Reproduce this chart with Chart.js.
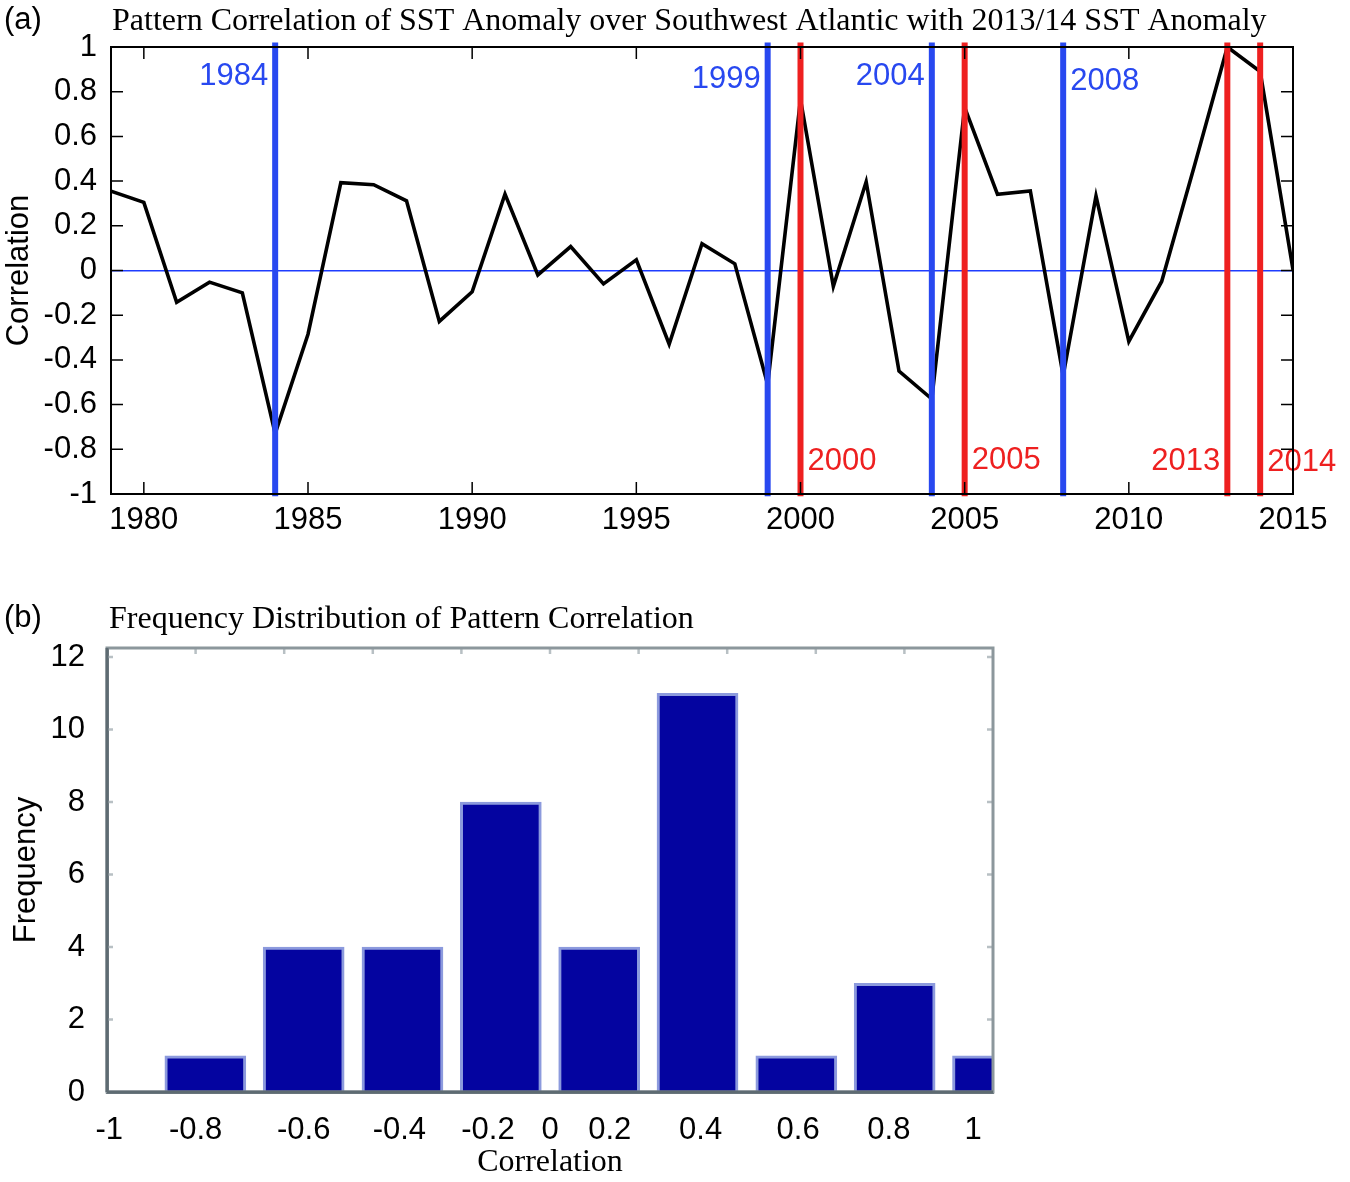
<!DOCTYPE html>
<html><head><meta charset="utf-8">
<script src="https://cdn.jsdelivr.net/npm/chart.js@4.4.1/dist/chart.umd.min.js"></script>
<style>
html,body{margin:0;padding:0;background:#fff;width:1350px;height:1182px;overflow:hidden;}
#wa{position:absolute;left:0;top:0;width:1350px;height:545px;}
#wb{position:absolute;left:0;top:590px;width:1350px;height:592px;}
</style></head><body>
<div id="wa"><canvas id="ca"></canvas></div>
<div id="wb"><canvas id="cb"></canvas></div>
<script>
// ---------- DATA ----------
const years = [1979,1980,1981,1982,1983,1984,1985,1986,1987,1988,1989,1990,1991,1992,1993,1994,1995,1996,1997,1998,1999,2000,2001,2002,2003,2004,2005,2006,2007,2008,2009,2010,2011,2012,2013,2014,2015];
const correlation = [0.355,0.305,-0.142,-0.052,-0.100,-0.730,-0.285,0.393,0.384,0.312,-0.228,-0.095,0.342,-0.020,0.107,-0.060,0.048,-0.330,0.120,0.030,-0.510,0.765,-0.071,0.397,-0.450,-0.575,0.730,0.341,0.356,-0.470,0.333,-0.317,-0.049,0.470,1.000,0.890,0.003];
const blueYears = [1984,1999,2004,2008];
const redYears = [2000,2005,2013,2014];
const yearTicks = [1980,1985,1990,1995,2000,2005,2010,2015];
const corrTicks = [-1,-0.8,-0.6,-0.4,-0.2,0,0.2,0.4,0.6,0.8,1];

const histCenters = [-0.778,-0.556,-0.333,-0.111,0.111,0.333,0.556,0.778,1.0];
const histCounts = [1,4,4,8,4,11,1,3,1];
const histTickValues = [-0.995,-0.8,-0.556,-0.34,-0.14,0,0.135,0.34,0.56,0.765,0.955];
const histTickLabels = ['-1','-0.8','-0.6','-0.4','-0.2','0','0.2','0.4','0.6','0.8','1'];
const freqTicks = [0,2,4,6,8,10,12];

// ---------- STYLE ----------
const SANS = "'Liberation Sans', Arial, Helvetica, sans-serif";
const SERIF = "'Liberation Serif', 'Times New Roman', serif";
const BLUE = 'rgb(40,72,240)';
const RED = 'rgb(238,32,32)';

// label placement for event lines (style only)
const eventLabelLayout = {
  1984:{side:-1,y:0.868}, 1999:{side:-1,y:0.855}, 2004:{side:-1,y:0.868}, 2008:{side:1,y:0.845},
  2000:{side:1,y:-0.855}, 2005:{side:1,y:-0.85}, 2013:{side:-1,y:-0.855}, 2014:{side:1,y:-0.86}
};

const panelText = {
  id:'panelText',
  afterDraw(chart, args, opts){
    const c = chart.ctx, a = chart.chartArea;
    c.save();
    c.fillStyle = '#000';
    c.textBaseline = 'middle';
    c.font = '31px ' + SANS;
    c.textAlign = 'left';
    c.fillText(opts.tag, 4, opts.tagY);
    c.font = '32px ' + SERIF;
    c.fillText(opts.title, a.left + opts.titleDx, opts.titleY);
    c.restore();
  }
};

const frameTicks = {
  id:'frameTicks',
  afterDatasetsDraw(chart, args, opts){
    const c = chart.ctx, a = chart.chartArea;
    const xs = chart.scales.x, ys = chart.scales.y;
    c.save();
    c.strokeStyle = opts.tickColor;
    c.lineWidth = opts.tickWidth;
    c.beginPath();
    (opts.xTickVals||[]).forEach(v=>{
      const px = xs.getPixelForValue(v);
      if (opts.bottomTicks){ c.moveTo(px, a.bottom); c.lineTo(px, a.bottom - opts.len); }
      c.moveTo(px, a.top); c.lineTo(px, a.top + opts.len);
    });
    (opts.yTickVals||[]).forEach(v=>{
      const py = ys.getPixelForValue(v);
      c.moveTo(a.left, py); c.lineTo(a.left + opts.len, py);
      c.moveTo(a.right, py); c.lineTo(a.right - opts.len, py);
    });
    c.stroke();
    c.strokeStyle = opts.frameColor;
    c.lineWidth = opts.frameWidth;
    c.strokeRect(a.left, a.top, a.right - a.left, a.bottom - a.top);
    if (opts.leftColor){
      c.strokeStyle = opts.leftColor;
      c.beginPath(); c.moveTo(a.left, a.top); c.lineTo(a.left, a.bottom);
      c.moveTo(a.left, a.bottom); c.lineTo(a.right, a.bottom); c.stroke();
    }
    c.restore();
  }
};

const eventLabels = {
  id:'eventLabels',
  afterDatasetsDraw(chart){
    const c = chart.ctx, xs = chart.scales.x, ys = chart.scales.y;
    c.save();
    c.font = '31px ' + SANS;
    c.textBaseline = 'middle';
    const draw = (yr, col) => {
      const L = eventLabelLayout[yr];
      const px = xs.getPixelForValue(yr);
      c.fillStyle = col;
      c.textAlign = L.side < 0 ? 'right' : 'left';
      c.fillText(String(yr), px + L.side * 7, ys.getPixelForValue(L.y));
    };
    blueYears.forEach(y=>draw(y, BLUE));
    redYears.forEach(y=>draw(y, RED));
    c.restore();
  }
};

Chart.defaults.font.family = SANS;
Chart.defaults.color = '#000';

// ---------- CHART (a) ----------
const vLine = (yr, col) => ({
  data:[{x:yr,y:-1.01},{x:yr,y:1.02}], borderColor:col, borderWidth:6,
  pointRadius:0, clip:false, tension:0
});
new Chart(document.getElementById('ca'), {
  type:'line',
  data:{ datasets:[
    ...blueYears.map(y=>vLine(y, BLUE)),
    ...redYears.map(y=>vLine(y, RED)),
    { data: years.map((yr,i)=>({x:yr, y:correlation[i]})), borderColor:'#000', borderWidth:3.6,
      pointRadius:0, tension:0, borderJoinStyle:'miter' }
  ]},
  options:{
    responsive:true, maintainAspectRatio:false, animation:false, devicePixelRatio:1,
    layout:{padding:{top:47,right:57,bottom:0,left:0}},
    plugins:{ legend:{display:false}, tooltip:{enabled:false},
      panelText:{tag:'(a)', tagY:20, title:'Pattern Correlation of SST Anomaly over Southwest Atlantic with 2013/14 SST Anomaly', titleDx:1, titleY:22},
      frameTicks:{xTickVals:yearTicks, yTickVals:corrTicks, len:12, tickColor:'#000', tickWidth:1.5, frameColor:'#000', frameWidth:2, bottomTicks:true}
    },
    scales:{
      x:{ type:'linear', min:1979, max:2015,
        afterBuildTicks(s){ s.ticks = yearTicks.map(v=>({value:v})); },
        afterFit(s){ s.height = 51; },
        ticks:{ font:{size:31}, color:'#000', padding:0, maxRotation:0, autoSkip:false, callback:v=>String(v) },
        grid:{ display:false }, border:{display:true, color:'#000', width:2}
      },
      y:{ min:-1, max:1,
        afterBuildTicks(s){ s.ticks = corrTicks.map(v=>({value:v})); },
        afterFit(s){ s.width = 111; },
        ticks:{ font:{size:31}, color:'#000', padding:14, callback:v=>String(Number(v.toFixed(1))) },
        grid:{ display:true, drawTicks:false, lineWidth:1.4,
          color:ctx=> (ctx.tick && ctx.tick.value===0) ? 'rgb(30,60,255)' : 'rgba(0,0,0,0)' },
        border:{display:true, color:'#000', width:2},
        title:{ display:true, text:'Correlation', font:{size:31}, color:'#000', padding:{top:1,bottom:0} }
      }
    }
  },
  plugins:[panelText, eventLabels, frameTicks]
});

// ---------- CHART (b) ----------
new Chart(document.getElementById('cb'), {
  type:'bar',
  data:{ datasets:[{
    data: histCenters.map((c,i)=>({x:c, y:histCounts[i]})),
    backgroundColor:'rgb(4,4,160)', borderColor:'rgba(120,136,215,0.85)', borderWidth:3,
    borderSkipped:'bottom', barThickness:81
  }]},
  options:{
    responsive:true, maintainAspectRatio:false, animation:false, devicePixelRatio:1,
    layout:{padding:{top:58,right:357,bottom:0,left:0}},
    plugins:{ legend:{display:false}, tooltip:{enabled:false},
      panelText:{tag:'(b)', tagY:28, title:'Frequency Distribution of Pattern Correlation', titleDx:2, titleY:30},
      frameTicks:{xTickVals:[-0.8,-0.6,-0.4,-0.2,0,0.2,0.4,0.6,0.8], yTickVals:[2,4,6,8,10,12], len:6, tickColor:'#b8c0c4', tickWidth:2.5, frameColor:'#8c979c', frameWidth:3, leftColor:'#5e6b72', bottomTicks:false}
    },
    scales:{
      x:{ type:'linear', min:-1, max:1, offset:false,
        afterBuildTicks(s){ s.ticks = histTickValues.map(v=>({value:v})); },
        afterFit(s){ s.height = 90; },
        ticks:{ font:{size:31}, color:'#000', padding:12, maxRotation:0, autoSkip:false,
          callback:(v,i)=>histTickLabels[i] },
        grid:{ display:false, offset:false }, border:{display:true, color:'#5e6b72', width:3},
        title:{ display:true, text:'Correlation', font:{size:32, family:SERIF}, color:'#000', padding:{top:0,bottom:0} }
      },
      y:{ min:0, max:12.25,
        afterBuildTicks(s){ s.ticks = freqTicks.map(v=>({value:v})); },
        afterFit(s){ s.width = 107; },
        ticks:{ font:{size:31}, color:'#000', padding:14, callback:v=>String(v) },
        grid:{ display:false }, border:{display:true, color:'#5e6b72', width:3},
        title:{ display:true, text:'Frequency', font:{size:31}, color:'#000', padding:{top:8,bottom:0} }
      }
    }
  },
  plugins:[panelText, frameTicks]
});
</script>
</body></html>
